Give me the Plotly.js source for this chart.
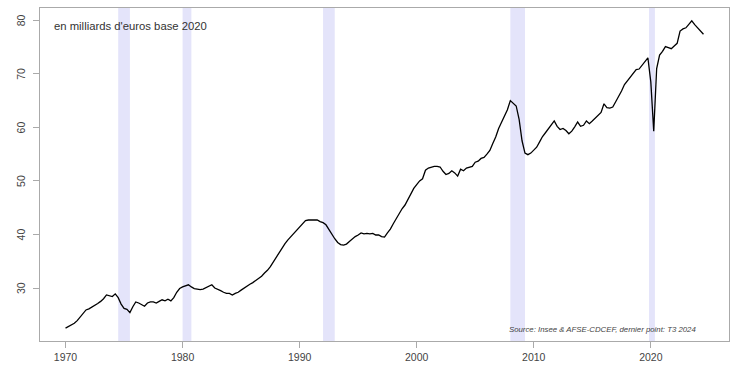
<!DOCTYPE html>
<html>
<head>
<meta charset="utf-8">
<script src="https://cdn.plot.ly/plotly-3.0.1.min.js"></script>
<style>html,body{margin:0;padding:0;background:#fff;}#chart{width:754px;height:375px;}</style>
</head>
<body>
<div id="chart"></div>
<script>
// Quarterly series, 1970 Q1 .. 2024 Q3 (billions of euros, base 2020)
const startYear = 1970;
const values = [
  22.5, 22.8, 23.1, 23.4,   // 1970
  23.9, 24.6, 25.4, 25.9,   // 1971
  26.1, 26.4, 26.7, 27.1,   // 1972
  27.5, 28.0, 28.7, 28.6,   // 1973
  28.4, 28.9, 28.2, 27.0,   // 1974
  26.2, 26.0, 25.4, 26.5,   // 1975
  27.4, 27.2, 26.9, 26.6,   // 1976
  27.2, 27.4, 27.4, 27.2,   // 1977
  27.5, 27.8, 27.6, 27.9,   // 1978
  27.6, 28.2, 29.2, 29.9,   // 1979
  30.2, 30.4, 30.6, 30.2,   // 1980
  29.9, 29.8, 29.7, 29.8,   // 1981
  30.1, 30.3, 30.6, 30.0,   // 1982
  29.8, 29.5, 29.2, 29.0,   // 1983
  29.0, 28.7, 29.0, 29.2,   // 1984
  29.6, 30.0, 30.4, 30.7,   // 1985
  31.0, 31.4, 31.8, 32.2,   // 1986
  32.8, 33.3, 34.0, 34.9,   // 1987
  35.8, 36.6, 37.5, 38.3,   // 1988
  39.0, 39.6, 40.2, 41.0,   // 1989
  41.6, 42.2, 42.6, 42.7,   // 1990
  42.7, 42.6, 42.7, 42.4,   // 1991
  42.2, 41.8, 40.9, 40.2,   // 1992
  39.2, 38.5, 38.1, 38.0,   // 1993
  38.2, 38.7, 39.2, 39.6,   // 1994
  39.9, 40.3, 40.1, 40.2,   // 1995
  40.1, 40.2, 39.9, 39.9,   // 1996
  39.6, 39.5, 40.3, 41.0,   // 1997
  42.0, 43.0, 44.0, 44.8,   // 1998
  45.5, 46.6, 47.6, 48.6,   // 1999
  49.3, 50.0, 50.4, 52.0,   // 2000
  52.4, 52.6, 52.7, 52.7,   // 2001
  52.6, 51.8, 51.2, 51.4,   // 2002
  51.9, 51.5, 50.9, 52.2,   // 2003
  51.9, 52.4, 52.5, 52.7,   // 2004
  53.5, 53.7, 54.2, 54.4,   // 2005
  55.0, 55.7, 57.0, 58.2,   // 2006
  59.8, 61.0, 62.2, 63.3,   // 2007
  65.0, 64.4, 64.0, 61.5,   // 2008
  57.5, 55.2, 54.9, 55.2,   // 2009
  55.7, 56.3, 57.3, 58.3,   // 2010
  59.0, 59.7, 60.3, 61.2,   // 2011
  60.2, 59.6, 59.8, 59.4,   // 2012
  58.8, 59.3, 60.1, 61.0,   // 2013
  60.2, 60.4, 61.2, 60.7,   // 2014
  61.2, 61.7, 62.2, 62.8,   // 2015
  64.4, 63.7, 63.6, 63.8,   // 2016
  64.8, 65.7, 66.8, 68.0,   // 2017
  68.7, 69.5, 70.0, 70.8,   // 2018
  70.9, 71.6, 72.3, 73.0,   // 2019
  68.5, 59.3, 71.0, 73.5,   // 2020
  74.2, 75.1, 74.9, 74.7,   // 2021
  75.2, 75.7, 78.0, 78.4,   // 2022
  78.6, 79.3, 79.9, 79.2,   // 2023
  78.6, 78.2, 77.4          // 2024 (T1-T3)
];
const years = values.map((v, i) => startYear + i / 4);

// Recession periods (shaded bands)
const recStart = [1974.5, 1980.0, 1992.0, 2008.0, 2019.85];
const recEnd   = [1975.5, 1980.75, 1993.0, 2009.25, 2020.35];

const xTicks = [1970, 1980, 1990, 2000, 2010, 2020];
const yTicks = [30, 40, 50, 60, 70, 80];

const unitLabel = "en milliards d'euros base 2020";
const sourceLabel = "Source: Insee & AFSE-CDCEF, dernier point: T3 2024";

const shapes = recStart.map((s, i) => ({
  type: 'rect', xref: 'x', yref: 'paper',
  x0: s, x1: recEnd[i], y0: 0, y1: 1,
  fillcolor: 'rgb(228,228,250)', line: {width: 0}, layer: 'below'
}));

const trace = {
  x: years, y: values, type: 'scatter', mode: 'lines',
  line: {color: '#000', width: 1.3}, hoverinfo: 'skip'
};

// Rotated y tick labels (R style, reading bottom-to-top)
const yLabelAnns = yTicks.map(v => ({
  text: String(v), xref: 'paper', yref: 'y', x: 0, y: v,
  xanchor: 'center', yanchor: 'middle', xshift: -19,
  textangle: -90, showarrow: false,
  font: {size: 10.5, color: '#444'}
}));

const layout = {
  width: 754, height: 375,
  margin: {l: 40, r: 25, t: 8, b: 34},
  paper_bgcolor: '#fff', plot_bgcolor: '#fff',
  showlegend: false,
  font: {family: 'Liberation Sans, Arial, sans-serif', size: 11, color: '#444'},
  xaxis: {
    range: [1967.82, 2026.68],
    tickvals: xTicks, ticktext: xTicks.map(String),
    ticks: 'outside', ticklen: 6, tickcolor: '#aaa', tickwidth: 1,
    showline: true, mirror: true, linecolor: '#aaa', linewidth: 1,
    showgrid: false, zeroline: false,
    tickfont: {size: 10.5, color: '#444'}
  },
  yaxis: {
    range: [20.1, 82.3],
    tickvals: yTicks, showticklabels: false,
    ticks: 'outside', ticklen: 6, tickcolor: '#aaa', tickwidth: 1,
    showline: true, mirror: true, linecolor: '#aaa', linewidth: 1,
    showgrid: false, zeroline: false
  },
  shapes: shapes,
  annotations: [
    {text: unitLabel, xref: 'paper', yref: 'paper', x: 0.017, y: 0.97,
     xanchor: 'left', yanchor: 'top', showarrow: false,
     font: {size: 11.3, color: '#333'}},
    {text: '<i>' + sourceLabel + '</i>', xref: 'paper', yref: 'paper', x: 0.955, y: 0.015,
     xanchor: 'right', yanchor: 'bottom', showarrow: false,
     font: {size: 7.8, color: '#444'}}
  ].concat(yLabelAnns)
};

Plotly.newPlot('chart', [trace], layout, {displayModeBar: false, staticPlot: true});
</script>
</body>
</html>
